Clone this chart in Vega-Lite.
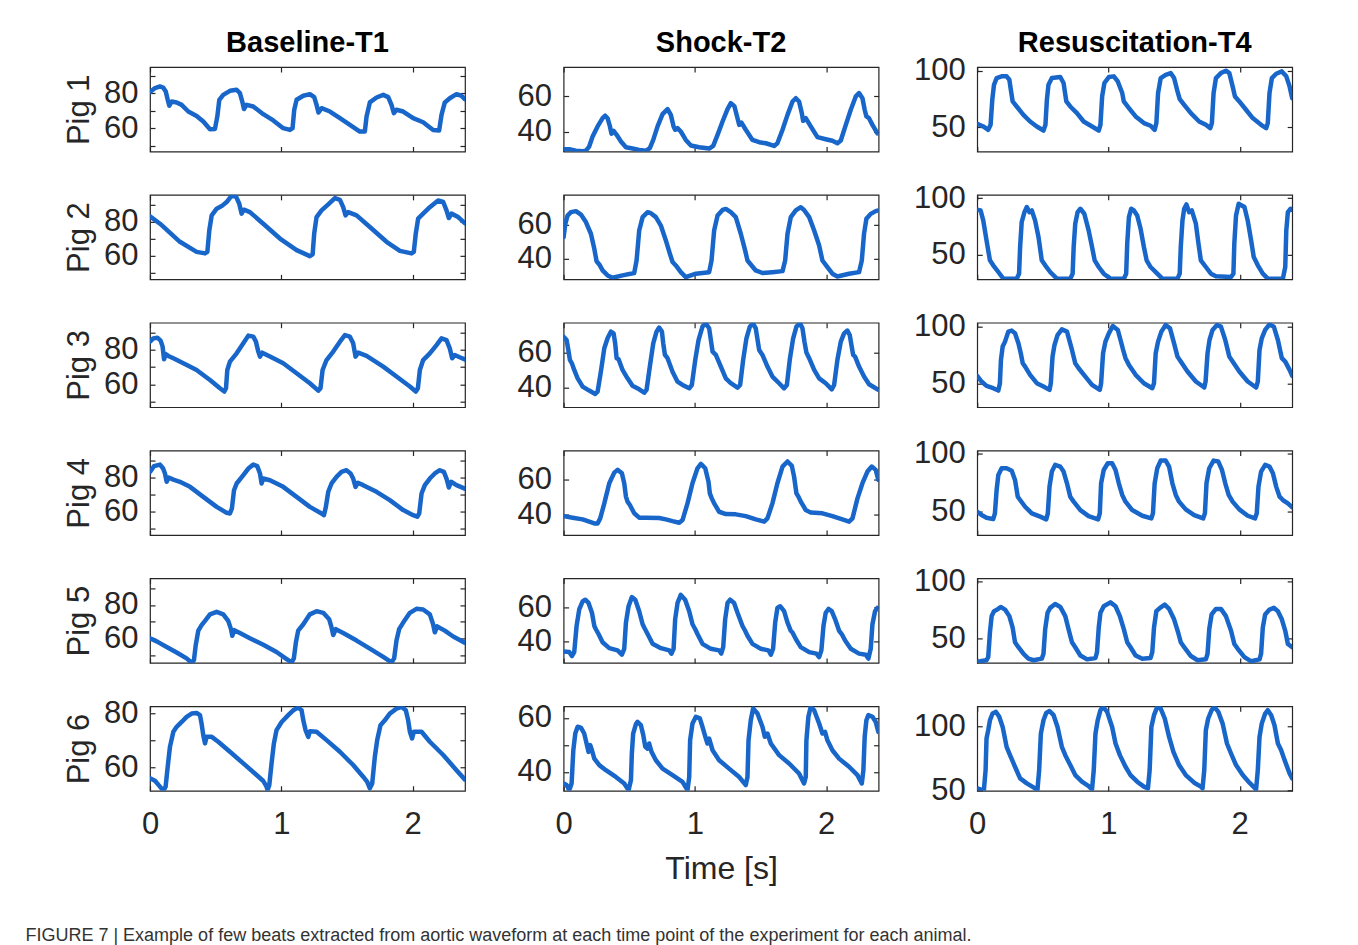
{
"$schema": "https://vega.github.io/schema/vega-lite/v6.json",
"padding": {"left": 25, "top": 28, "right": 10, "bottom": 10},
"background": "white",
"title": {"text": "FIGURE 7 | Example of few beats extracted from aortic waveform at each time point of the experiment for each animal.", "orient": "bottom", "anchor": "start", "frame": "bounds", "fontSize": 18, "fontWeight": "normal", "color": "#333333", "offset": 42, "dx": -37},
"datasets": {
"c1r1": [{"t":0,"p":80.7},{"t":0.038,"p":83.0},{"t":0.076,"p":83.9},{"t":0.10,"p":83.3},{"t":0.12,"p":81.0},{"t":0.135,"p":76.3},{"t":0.147,"p":72.9},{"t":0.165,"p":75.3},{"t":0.203,"p":74.8},{"t":0.241,"p":73.4},{"t":0.292,"p":69.6},{"t":0.355,"p":67.1},{"t":0.406,"p":63.9},{"t":0.457,"p":59.5},{"t":0.495,"p":59.7},{"t":0.513,"p":66.8},{"t":0.528,"p":76.3},{"t":0.558,"p":79.1},{"t":0.609,"p":81.4},{"t":0.66,"p":82.0},{"t":0.685,"p":80.1},{"t":0.703,"p":75.3},{"t":0.716,"p":71.0},{"t":0.736,"p":73.4},{"t":0.787,"p":72.5},{"t":0.863,"p":68.1},{"t":0.939,"p":64.5},{"t":1.015,"p":60.1},{"t":1.066,"p":59.1},{"t":1.086,"p":60.1},{"t":1.099,"p":70.6},{"t":1.117,"p":76.3},{"t":1.168,"p":78.6},{"t":1.218,"p":79.5},{"t":1.251,"p":77.8},{"t":1.269,"p":73.4},{"t":1.284,"p":69.0},{"t":1.307,"p":71.5},{"t":1.371,"p":69.6},{"t":1.447,"p":65.8},{"t":1.523,"p":62.0},{"t":1.599,"p":58.2},{"t":1.637,"p":58.2},{"t":1.65,"p":66.8},{"t":1.675,"p":74.8},{"t":1.726,"p":77.6},{"t":1.777,"p":79.1},{"t":1.815,"p":77.8},{"t":1.84,"p":73.4},{"t":1.858,"p":68.7},{"t":1.878,"p":70.6},{"t":1.929,"p":69.6},{"t":2.005,"p":65.8},{"t":2.081,"p":63.5},{"t":2.157,"p":59.1},{"t":2.203,"p":58.8},{"t":2.221,"p":67.7},{"t":2.246,"p":74.8},{"t":2.284,"p":77.2},{"t":2.335,"p":79.5},{"t":2.373,"p":78.6},{"t":2.398,"p":76.7}],
"c1r2": [{"t":0,"p":83.0},{"t":0.076,"p":78.7},{"t":0.228,"p":68.1},{"t":0.355,"p":62.2},{"t":0.419,"p":61.3},{"t":0.437,"p":62.2},{"t":0.452,"p":74.9},{"t":0.47,"p":83.6},{"t":0.508,"p":87.5},{"t":0.546,"p":89.0},{"t":0.584,"p":91.4},{"t":0.622,"p":95.2},{"t":0.655,"p":94.7},{"t":0.68,"p":90.4},{"t":0.698,"p":84.6},{"t":0.716,"p":86.9},{"t":0.761,"p":85.5},{"t":0.863,"p":78.7},{"t":0.99,"p":70.0},{"t":1.117,"p":63.2},{"t":1.218,"p":59.7},{"t":1.239,"p":60.7},{"t":1.251,"p":72.9},{"t":1.269,"p":82.6},{"t":1.307,"p":86.5},{"t":1.358,"p":90.0},{"t":1.409,"p":93.7},{"t":1.447,"p":92.7},{"t":1.472,"p":88.4},{"t":1.49,"p":83.6},{"t":1.51,"p":85.5},{"t":1.574,"p":83.6},{"t":1.675,"p":76.8},{"t":1.802,"p":68.1},{"t":1.904,"p":62.8},{"t":1.992,"p":61.3},{"t":2.01,"p":62.2},{"t":2.025,"p":72.9},{"t":2.043,"p":81.7},{"t":2.081,"p":84.6},{"t":2.132,"p":88.4},{"t":2.195,"p":92.3},{"t":2.234,"p":91.4},{"t":2.259,"p":86.5},{"t":2.277,"p":82.0},{"t":2.297,"p":84.6},{"t":2.348,"p":82.6},{"t":2.398,"p":79.1}],
"c1r3": [{"t":0,"p":84.8},{"t":0.025,"p":86.7},{"t":0.056,"p":87.1},{"t":0.081,"p":85.4},{"t":0.096,"p":81.9},{"t":0.107,"p":74.5},{"t":0.119,"p":77.6},{"t":0.14,"p":76.5},{"t":0.178,"p":75.1},{"t":0.254,"p":72.2},{"t":0.355,"p":68.3},{"t":0.457,"p":62.5},{"t":0.533,"p":57.7},{"t":0.566,"p":55.8},{"t":0.579,"p":57.7},{"t":0.589,"p":68.3},{"t":0.609,"p":73.2},{"t":0.66,"p":78.0},{"t":0.711,"p":83.8},{"t":0.749,"p":88.3},{"t":0.787,"p":87.7},{"t":0.807,"p":84.8},{"t":0.825,"p":79.0},{"t":0.838,"p":76.1},{"t":0.855,"p":78.4},{"t":0.914,"p":76.1},{"t":1.015,"p":72.2},{"t":1.117,"p":66.4},{"t":1.218,"p":60.6},{"t":1.282,"p":56.3},{"t":1.299,"p":57.7},{"t":1.315,"p":68.3},{"t":1.345,"p":74.1},{"t":1.396,"p":79.0},{"t":1.447,"p":84.8},{"t":1.485,"p":88.6},{"t":1.523,"p":87.7},{"t":1.548,"p":83.8},{"t":1.566,"p":76.1},{"t":1.586,"p":78.4},{"t":1.65,"p":76.5},{"t":1.777,"p":70.3},{"t":1.878,"p":64.5},{"t":1.98,"p":58.7},{"t":2.025,"p":55.8},{"t":2.041,"p":57.7},{"t":2.056,"p":68.3},{"t":2.081,"p":74.1},{"t":2.132,"p":78.0},{"t":2.183,"p":82.8},{"t":2.221,"p":86.7},{"t":2.259,"p":85.7},{"t":2.284,"p":80.9},{"t":2.302,"p":75.1},{"t":2.322,"p":77.0},{"t":2.36,"p":75.7},{"t":2.398,"p":74.5}],
"c1r4": [{"t":0,"p":83.3},{"t":0.03,"p":86.7},{"t":0.076,"p":87.6},{"t":0.10,"p":85.3},{"t":0.114,"p":82.4},{"t":0.127,"p":77.5},{"t":0.142,"p":80.0},{"t":0.178,"p":78.8},{"t":0.228,"p":77.5},{"t":0.305,"p":74.5},{"t":0.406,"p":68.6},{"t":0.508,"p":62.7},{"t":0.584,"p":59.2},{"t":0.609,"p":58.8},{"t":0.624,"p":61.8},{"t":0.64,"p":72.5},{"t":0.66,"p":76.5},{"t":0.711,"p":81.4},{"t":0.749,"p":85.3},{"t":0.787,"p":87.6},{"t":0.817,"p":86.7},{"t":0.838,"p":82.4},{"t":0.85,"p":76.5},{"t":0.863,"p":79.4},{"t":0.914,"p":78.4},{"t":1.015,"p":74.5},{"t":1.117,"p":68.6},{"t":1.218,"p":62.7},{"t":1.307,"p":58.8},{"t":1.325,"p":57.8},{"t":1.34,"p":62.7},{"t":1.358,"p":71.6},{"t":1.383,"p":76.5},{"t":1.421,"p":80.4},{"t":1.459,"p":83.3},{"t":1.497,"p":84.3},{"t":1.528,"p":82.4},{"t":1.548,"p":79.4},{"t":1.566,"p":74.5},{"t":1.584,"p":76.9},{"t":1.624,"p":75.5},{"t":1.726,"p":71.6},{"t":1.827,"p":66.7},{"t":1.929,"p":60.8},{"t":2.005,"p":57.8},{"t":2.036,"p":56.9},{"t":2.051,"p":58.8},{"t":2.069,"p":70.6},{"t":2.094,"p":75.5},{"t":2.132,"p":79.4},{"t":2.17,"p":82.4},{"t":2.208,"p":84.3},{"t":2.239,"p":83.3},{"t":2.259,"p":79.4},{"t":2.277,"p":74.1},{"t":2.294,"p":77.5},{"t":2.335,"p":75.5},{"t":2.398,"p":73.5}],
"c1r5": [{"t":0,"p":60.2},{"t":0.051,"p":58.3},{"t":0.127,"p":55.0},{"t":0.203,"p":51.7},{"t":0.279,"p":48.2},{"t":0.317,"p":45.6},{"t":0.335,"p":47.2},{"t":0.348,"p":55.9},{"t":0.368,"p":64.7},{"t":0.393,"p":68.0},{"t":0.419,"p":70.5},{"t":0.457,"p":74.4},{"t":0.508,"p":75.9},{"t":0.558,"p":74.4},{"t":0.596,"p":70.5},{"t":0.617,"p":65.6},{"t":0.627,"p":61.7},{"t":0.642,"p":65.0},{"t":0.685,"p":63.3},{"t":0.761,"p":60.2},{"t":0.863,"p":56.3},{"t":0.964,"p":52.0},{"t":1.041,"p":47.8},{"t":1.079,"p":45.8},{"t":1.096,"p":48.2},{"t":1.112,"p":57.9},{"t":1.129,"p":64.7},{"t":1.168,"p":68.5},{"t":1.218,"p":74.4},{"t":1.269,"p":76.3},{"t":1.32,"p":75.3},{"t":1.365,"p":71.5},{"t":1.383,"p":66.6},{"t":1.396,"p":62.1},{"t":1.416,"p":65.6},{"t":1.472,"p":63.3},{"t":1.574,"p":58.8},{"t":1.675,"p":54.0},{"t":1.777,"p":49.1},{"t":1.84,"p":45.8},{"t":1.86,"p":48.2},{"t":1.878,"p":58.8},{"t":1.898,"p":65.6},{"t":1.929,"p":69.5},{"t":1.98,"p":75.3},{"t":2.03,"p":77.7},{"t":2.081,"p":77.3},{"t":2.132,"p":74.4},{"t":2.157,"p":68.5},{"t":2.17,"p":63.7},{"t":2.188,"p":67.2},{"t":2.246,"p":64.7},{"t":2.31,"p":61.2},{"t":2.398,"p":57.5}],
"c1r6": [{"t":0,"p":56.1},{"t":0.038,"p":55.2},{"t":0.071,"p":53.3},{"t":0.102,"p":51.5},{"t":0.119,"p":53.0},{"t":0.132,"p":59.1},{"t":0.152,"p":67.7},{"t":0.178,"p":73.3},{"t":0.203,"p":75.1},{"t":0.241,"p":76.9},{"t":0.279,"p":78.8},{"t":0.317,"p":80.0},{"t":0.355,"p":80.2},{"t":0.381,"p":79.4},{"t":0.393,"p":76.3},{"t":0.406,"p":72.0},{"t":0.419,"p":69.0},{"t":0.431,"p":71.4},{"t":0.47,"p":71.4},{"t":0.52,"p":69.6},{"t":0.609,"p":65.9},{"t":0.711,"p":61.6},{"t":0.812,"p":57.3},{"t":0.863,"p":55.1},{"t":0.888,"p":53.0},{"t":0.896,"p":51.8},{"t":0.909,"p":53.6},{"t":0.926,"p":61.6},{"t":0.944,"p":69.0},{"t":0.964,"p":73.9},{"t":1.003,"p":76.9},{"t":1.053,"p":79.4},{"t":1.091,"p":81.2},{"t":1.129,"p":82.2},{"t":1.155,"p":81.2},{"t":1.168,"p":77.5},{"t":1.185,"p":73.9},{"t":1.206,"p":71.4},{"t":1.218,"p":73.5},{"t":1.269,"p":73.3},{"t":1.345,"p":70.2},{"t":1.447,"p":65.9},{"t":1.548,"p":61.0},{"t":1.624,"p":56.7},{"t":1.655,"p":54.8},{"t":1.675,"p":52.4},{"t":1.693,"p":54.2},{"t":1.713,"p":64.0},{"t":1.731,"p":70.2},{"t":1.756,"p":75.7},{"t":1.789,"p":77.5},{"t":1.827,"p":80.0},{"t":1.878,"p":81.8},{"t":1.916,"p":82.5},{"t":1.949,"p":81.2},{"t":1.967,"p":77.5},{"t":1.98,"p":73.3},{"t":1.997,"p":70.8},{"t":2.01,"p":73.3},{"t":2.069,"p":73.3},{"t":2.132,"p":69.6},{"t":2.234,"p":64.7},{"t":2.335,"p":59.1},{"t":2.398,"p":55.7}],
"c2r1": [{"t":0,"p":29.9},{"t":0.043,"p":29.9},{"t":0.094,"p":29.1},{"t":0.145,"p":28.8},{"t":0.17,"p":29.1},{"t":0.195,"p":31.4},{"t":0.221,"p":37.1},{"t":0.259,"p":42.9},{"t":0.297,"p":47.6},{"t":0.317,"p":49.0},{"t":0.335,"p":47.6},{"t":0.353,"p":42.9},{"t":0.365,"p":38.7},{"t":0.381,"p":40.4},{"t":0.404,"p":38.1},{"t":0.437,"p":34.3},{"t":0.475,"p":31.0},{"t":0.525,"p":30.3},{"t":0.576,"p":29.5},{"t":0.627,"p":29.0},{"t":0.657,"p":30.5},{"t":0.683,"p":35.2},{"t":0.716,"p":42.9},{"t":0.754,"p":49.9},{"t":0.792,"p":52.8},{"t":0.817,"p":49.5},{"t":0.838,"p":42.9},{"t":0.85,"p":41.0},{"t":0.868,"p":41.9},{"t":0.893,"p":40.0},{"t":0.931,"p":35.2},{"t":0.97,"p":32.0},{"t":1.033,"p":31.0},{"t":1.109,"p":30.3},{"t":1.14,"p":31.8},{"t":1.173,"p":38.1},{"t":1.211,"p":45.7},{"t":1.249,"p":52.8},{"t":1.274,"p":56.2},{"t":1.302,"p":54.3},{"t":1.325,"p":47.6},{"t":1.338,"p":43.8},{"t":1.355,"p":45.1},{"t":1.388,"p":41.0},{"t":1.439,"p":35.2},{"t":1.49,"p":33.9},{"t":1.541,"p":33.3},{"t":1.604,"p":31.8},{"t":1.629,"p":33.3},{"t":1.668,"p":41.0},{"t":1.706,"p":49.5},{"t":1.744,"p":57.1},{"t":1.769,"p":59.0},{"t":1.794,"p":57.1},{"t":1.815,"p":50.5},{"t":1.825,"p":46.1},{"t":1.845,"p":47.6},{"t":1.883,"p":42.9},{"t":1.934,"p":36.8},{"t":1.997,"p":35.6},{"t":2.048,"p":34.7},{"t":2.086,"p":33.3},{"t":2.112,"p":34.9},{"t":2.15,"p":43.8},{"t":2.188,"p":52.4},{"t":2.226,"p":60.0},{"t":2.251,"p":61.9},{"t":2.277,"p":59.0},{"t":2.294,"p":52.4},{"t":2.307,"p":48.6},{"t":2.327,"p":47.6},{"t":2.353,"p":43.8},{"t":2.391,"p":39.0}],
"c2r2": [{"t":0,"p":52.6},{"t":0.013,"p":60.4},{"t":0.03,"p":65.2},{"t":0.056,"p":67.2},{"t":0.094,"p":67.8},{"t":0.132,"p":65.8},{"t":0.17,"p":61.4},{"t":0.208,"p":54.6},{"t":0.234,"p":45.8},{"t":0.251,"p":38.6},{"t":0.272,"p":36.7},{"t":0.297,"p":33.2},{"t":0.335,"p":30.3},{"t":0.373,"p":28.9},{"t":0.449,"p":30.3},{"t":0.538,"p":31.7},{"t":0.556,"p":39.0},{"t":0.576,"p":56.5},{"t":0.602,"p":64.3},{"t":0.64,"p":67.2},{"t":0.665,"p":66.6},{"t":0.703,"p":64.3},{"t":0.741,"p":59.4},{"t":0.779,"p":50.7},{"t":0.81,"p":42.9},{"t":0.83,"p":38.1},{"t":0.855,"p":36.1},{"t":0.893,"p":32.2},{"t":0.931,"p":29.3},{"t":1.008,"p":31.3},{"t":1.109,"p":32.2},{"t":1.127,"p":39.0},{"t":1.147,"p":56.5},{"t":1.173,"p":65.2},{"t":1.211,"p":68.5},{"t":1.236,"p":69.1},{"t":1.274,"p":67.2},{"t":1.312,"p":64.3},{"t":1.35,"p":54.6},{"t":1.383,"p":44.9},{"t":1.401,"p":39.0},{"t":1.426,"p":36.7},{"t":1.464,"p":33.2},{"t":1.515,"p":31.7},{"t":1.591,"p":32.2},{"t":1.668,"p":32.8},{"t":1.688,"p":39.0},{"t":1.706,"p":54.6},{"t":1.731,"p":64.3},{"t":1.769,"p":68.2},{"t":1.807,"p":70.1},{"t":1.832,"p":68.5},{"t":1.871,"p":64.3},{"t":1.909,"p":56.5},{"t":1.947,"p":47.8},{"t":1.972,"p":39.0},{"t":2.01,"p":35.1},{"t":2.048,"p":31.3},{"t":2.086,"p":29.7},{"t":2.175,"p":31.3},{"t":2.251,"p":32.2},{"t":2.272,"p":39.0},{"t":2.289,"p":54.6},{"t":2.307,"p":63.3},{"t":2.34,"p":66.2},{"t":2.378,"p":67.8},{"t":2.398,"p":68.2}],
"c2r3": [{"t":0,"p":69.1},{"t":0.023,"p":67.2},{"t":0.036,"p":61.5},{"t":0.048,"p":55.8},{"t":0.063,"p":53.9},{"t":0.081,"p":50.1},{"t":0.107,"p":45.3},{"t":0.145,"p":40.6},{"t":0.195,"p":38.3},{"t":0.241,"p":36.4},{"t":0.259,"p":37.7},{"t":0.284,"p":49.1},{"t":0.31,"p":62.5},{"t":0.335,"p":68.2},{"t":0.36,"p":72.0},{"t":0.381,"p":71.0},{"t":0.393,"p":65.3},{"t":0.404,"p":56.8},{"t":0.419,"p":56.2},{"t":0.449,"p":50.1},{"t":0.487,"p":45.3},{"t":0.525,"p":41.0},{"t":0.576,"p":39.0},{"t":0.614,"p":37.1},{"t":0.632,"p":38.7},{"t":0.657,"p":52.0},{"t":0.683,"p":65.3},{"t":0.708,"p":72.0},{"t":0.728,"p":74.3},{"t":0.749,"p":72.0},{"t":0.759,"p":65.3},{"t":0.772,"p":58.7},{"t":0.792,"p":56.8},{"t":0.83,"p":49.1},{"t":0.868,"p":43.4},{"t":0.906,"p":41.5},{"t":0.957,"p":39.6},{"t":0.977,"p":41.5},{"t":1.003,"p":55.8},{"t":1.028,"p":67.2},{"t":1.058,"p":74.9},{"t":1.084,"p":76.6},{"t":1.109,"p":73.9},{"t":1.122,"p":67.2},{"t":1.135,"p":60.6},{"t":1.16,"p":58.7},{"t":1.198,"p":52.0},{"t":1.236,"p":45.3},{"t":1.274,"p":42.5},{"t":1.325,"p":40.0},{"t":1.345,"p":41.5},{"t":1.368,"p":55.8},{"t":1.393,"p":68.2},{"t":1.419,"p":74.9},{"t":1.444,"p":76.6},{"t":1.464,"p":73.9},{"t":1.48,"p":66.3},{"t":1.49,"p":61.5},{"t":1.515,"p":58.7},{"t":1.553,"p":52.0},{"t":1.591,"p":46.3},{"t":1.642,"p":42.5},{"t":1.68,"p":39.6},{"t":1.701,"p":41.5},{"t":1.723,"p":55.8},{"t":1.749,"p":68.2},{"t":1.774,"p":74.9},{"t":1.802,"p":76.6},{"t":1.82,"p":73.9},{"t":1.835,"p":66.3},{"t":1.85,"p":60.0},{"t":1.871,"p":56.8},{"t":1.909,"p":50.1},{"t":1.947,"p":45.3},{"t":1.997,"p":42.5},{"t":2.043,"p":39.0},{"t":2.061,"p":41.5},{"t":2.086,"p":55.8},{"t":2.112,"p":66.3},{"t":2.137,"p":71.0},{"t":2.162,"p":72.6},{"t":2.18,"p":70.1},{"t":2.195,"p":63.4},{"t":2.206,"p":58.7},{"t":2.221,"p":57.7},{"t":2.251,"p":52.0},{"t":2.289,"p":46.3},{"t":2.327,"p":41.9},{"t":2.365,"p":40.2},{"t":2.398,"p":38.7}],
"c2r4": [{"t":0,"p":39.2},{"t":0.069,"p":38.3},{"t":0.145,"p":37.3},{"t":0.195,"p":36.0},{"t":0.234,"p":35.0},{"t":0.259,"p":35.0},{"t":0.279,"p":37.9},{"t":0.31,"p":46.5},{"t":0.348,"p":58.1},{"t":0.386,"p":64.2},{"t":0.411,"p":65.8},{"t":0.444,"p":63.8},{"t":0.462,"p":58.1},{"t":0.475,"p":50.4},{"t":0.487,"p":47.5},{"t":0.505,"p":45.6},{"t":0.538,"p":40.8},{"t":0.576,"p":38.3},{"t":0.627,"p":38.3},{"t":0.728,"p":38.1},{"t":0.779,"p":37.3},{"t":0.83,"p":36.3},{"t":0.881,"p":35.4},{"t":0.906,"p":36.9},{"t":0.944,"p":46.5},{"t":0.982,"p":58.1},{"t":1.02,"p":66.7},{"t":1.046,"p":69.2},{"t":1.079,"p":66.7},{"t":1.104,"p":59.0},{"t":1.114,"p":52.3},{"t":1.129,"p":49.4},{"t":1.147,"p":46.5},{"t":1.185,"p":41.7},{"t":1.236,"p":40.4},{"t":1.312,"p":40.2},{"t":1.388,"p":39.2},{"t":1.464,"p":37.3},{"t":1.528,"p":36.0},{"t":1.553,"p":37.9},{"t":1.591,"p":46.5},{"t":1.629,"p":58.1},{"t":1.668,"p":67.7},{"t":1.706,"p":70.6},{"t":1.739,"p":68.1},{"t":1.756,"p":61.9},{"t":1.774,"p":52.3},{"t":1.789,"p":50.4},{"t":1.807,"p":47.5},{"t":1.845,"p":42.7},{"t":1.883,"p":41.2},{"t":1.972,"p":40.8},{"t":2.048,"p":39.2},{"t":2.124,"p":37.3},{"t":2.175,"p":36.0},{"t":2.201,"p":37.9},{"t":2.239,"p":49.4},{"t":2.277,"p":58.1},{"t":2.315,"p":64.8},{"t":2.348,"p":67.7},{"t":2.378,"p":65.8},{"t":2.398,"p":60.0}],
"c2r5": [{"t":0,"p":34.3},{"t":0.043,"p":33.9},{"t":0.063,"p":31.6},{"t":0.081,"p":33.9},{"t":0.099,"p":49.1},{"t":0.119,"p":58.7},{"t":0.145,"p":63.4},{"t":0.165,"p":64.4},{"t":0.19,"p":62.5},{"t":0.216,"p":56.8},{"t":0.234,"p":49.1},{"t":0.246,"p":47.2},{"t":0.266,"p":44.4},{"t":0.297,"p":39.6},{"t":0.348,"p":36.2},{"t":0.411,"p":34.9},{"t":0.444,"p":32.4},{"t":0.462,"p":35.8},{"t":0.475,"p":51.0},{"t":0.495,"p":60.6},{"t":0.52,"p":65.9},{"t":0.546,"p":64.4},{"t":0.576,"p":57.7},{"t":0.602,"p":50.1},{"t":0.614,"p":48.2},{"t":0.64,"p":44.4},{"t":0.678,"p":38.7},{"t":0.741,"p":36.2},{"t":0.805,"p":34.9},{"t":0.822,"p":33.0},{"t":0.838,"p":35.8},{"t":0.85,"p":53.0},{"t":0.868,"p":62.5},{"t":0.893,"p":67.2},{"t":0.926,"p":64.4},{"t":0.957,"p":57.7},{"t":0.982,"p":50.1},{"t":1.003,"p":47.2},{"t":1.02,"p":44.4},{"t":1.058,"p":38.7},{"t":1.122,"p":35.8},{"t":1.185,"p":34.9},{"t":1.201,"p":33.0},{"t":1.216,"p":36.8},{"t":1.231,"p":53.0},{"t":1.249,"p":62.5},{"t":1.269,"p":64.4},{"t":1.299,"p":62.5},{"t":1.325,"p":56.8},{"t":1.363,"p":49.1},{"t":1.383,"p":46.3},{"t":1.401,"p":43.4},{"t":1.439,"p":38.7},{"t":1.503,"p":35.8},{"t":1.561,"p":34.9},{"t":1.579,"p":32.4},{"t":1.596,"p":35.8},{"t":1.612,"p":51.0},{"t":1.629,"p":59.6},{"t":1.65,"p":60.6},{"t":1.68,"p":57.7},{"t":1.706,"p":51.0},{"t":1.731,"p":46.3},{"t":1.744,"p":45.3},{"t":1.769,"p":41.5},{"t":1.807,"p":36.8},{"t":1.871,"p":33.9},{"t":1.926,"p":33.0},{"t":1.947,"p":31.0},{"t":1.964,"p":34.9},{"t":1.98,"p":49.1},{"t":1.997,"p":56.8},{"t":2.018,"p":59.0},{"t":2.043,"p":57.7},{"t":2.069,"p":53.0},{"t":2.099,"p":46.3},{"t":2.119,"p":44.4},{"t":2.145,"p":40.6},{"t":2.188,"p":35.8},{"t":2.251,"p":33.0},{"t":2.302,"p":32.4},{"t":2.322,"p":30.1},{"t":2.34,"p":35.8},{"t":2.353,"p":50.1},{"t":2.373,"p":57.7},{"t":2.391,"p":59.6}],
"c2r6": [{"t":0,"p":35.7},{"t":0.023,"p":35.1},{"t":0.043,"p":33.2},{"t":0.061,"p":35.7},{"t":0.074,"p":48.0},{"t":0.089,"p":54.2},{"t":0.107,"p":56.7},{"t":0.132,"p":56.4},{"t":0.157,"p":54.2},{"t":0.175,"p":50.5},{"t":0.19,"p":47.4},{"t":0.203,"p":49.9},{"t":0.216,"p":48.0},{"t":0.234,"p":44.9},{"t":0.272,"p":42.5},{"t":0.322,"p":40.6},{"t":0.398,"p":38.1},{"t":0.462,"p":35.7},{"t":0.495,"p":33.2},{"t":0.513,"p":36.9},{"t":0.52,"p":46.8},{"t":0.53,"p":54.2},{"t":0.551,"p":57.7},{"t":0.563,"p":58.5},{"t":0.589,"p":57.3},{"t":0.607,"p":53.6},{"t":0.622,"p":49.3},{"t":0.64,"p":48.6},{"t":0.652,"p":50.5},{"t":0.67,"p":47.4},{"t":0.703,"p":44.3},{"t":0.754,"p":41.2},{"t":0.83,"p":38.8},{"t":0.906,"p":36.3},{"t":0.944,"p":33.2},{"t":0.957,"p":38.1},{"t":0.964,"p":51.7},{"t":0.982,"p":57.9},{"t":1.008,"p":60.4},{"t":1.038,"p":59.8},{"t":1.058,"p":56.7},{"t":1.084,"p":52.3},{"t":1.096,"p":50.5},{"t":1.109,"p":52.3},{"t":1.135,"p":48.0},{"t":1.185,"p":44.3},{"t":1.261,"p":41.2},{"t":1.338,"p":38.1},{"t":1.388,"p":35.1},{"t":1.401,"p":38.1},{"t":1.409,"p":51.7},{"t":1.426,"p":59.1},{"t":1.444,"p":63.5},{"t":1.477,"p":61.6},{"t":1.515,"p":56.7},{"t":1.533,"p":53.0},{"t":1.553,"p":54.2},{"t":1.579,"p":50.5},{"t":1.642,"p":46.2},{"t":1.718,"p":43.1},{"t":1.794,"p":39.4},{"t":1.832,"p":35.7},{"t":1.845,"p":38.1},{"t":1.85,"p":51.7},{"t":1.865,"p":60.4},{"t":1.883,"p":64.1},{"t":1.909,"p":62.8},{"t":1.947,"p":57.9},{"t":1.972,"p":54.2},{"t":1.992,"p":54.8},{"t":2.01,"p":51.7},{"t":2.048,"p":48.0},{"t":2.099,"p":44.9},{"t":2.175,"p":41.9},{"t":2.239,"p":38.8},{"t":2.272,"p":35.7},{"t":2.284,"p":40.6},{"t":2.294,"p":53.0},{"t":2.307,"p":59.1},{"t":2.322,"p":61.0},{"t":2.353,"p":60.4},{"t":2.378,"p":58.5},{"t":2.398,"p":54.8}],
"c3r1": [{"t":0,"p":53.0},{"t":0.046,"p":50.6},{"t":0.084,"p":47.6},{"t":0.102,"p":52.1},{"t":0.115,"p":74.3},{"t":0.128,"p":87.6},{"t":0.148,"p":93.5},{"t":0.186,"p":95.0},{"t":0.224,"p":95.0},{"t":0.245,"p":92.0},{"t":0.258,"p":81.7},{"t":0.27,"p":72.8},{"t":0.301,"p":68.3},{"t":0.352,"p":60.9},{"t":0.403,"p":55.0},{"t":0.454,"p":50.6},{"t":0.505,"p":47.0},{"t":0.52,"p":52.1},{"t":0.531,"p":74.3},{"t":0.543,"p":87.6},{"t":0.569,"p":93.5},{"t":0.633,"p":94.4},{"t":0.658,"p":89.1},{"t":0.679,"p":72.8},{"t":0.709,"p":68.3},{"t":0.76,"p":62.4},{"t":0.811,"p":55.0},{"t":0.875,"p":50.6},{"t":0.926,"p":47.0},{"t":0.939,"p":52.1},{"t":0.952,"p":77.2},{"t":0.969,"p":89.1},{"t":1.003,"p":94.4},{"t":1.041,"p":95.0},{"t":1.071,"p":90.5},{"t":1.105,"p":80.2},{"t":1.117,"p":72.8},{"t":1.156,"p":66.9},{"t":1.207,"p":59.5},{"t":1.27,"p":53.6},{"t":1.321,"p":51.2},{"t":1.352,"p":47.6},{"t":1.365,"p":53.6},{"t":1.378,"p":80.2},{"t":1.398,"p":93.5},{"t":1.436,"p":96.4},{"t":1.474,"p":97.9},{"t":1.5,"p":93.5},{"t":1.526,"p":81.7},{"t":1.543,"p":74.9},{"t":1.577,"p":69.8},{"t":1.628,"p":62.4},{"t":1.691,"p":55.0},{"t":1.742,"p":52.1},{"t":1.776,"p":49.1},{"t":1.788,"p":53.6},{"t":1.801,"p":80.2},{"t":1.819,"p":93.5},{"t":1.857,"p":97.9},{"t":1.895,"p":100.0},{"t":1.921,"p":97.9},{"t":1.946,"p":86.1},{"t":1.964,"p":77.2},{"t":1.997,"p":72.8},{"t":2.048,"p":65.4},{"t":2.099,"p":58.0},{"t":2.163,"p":52.1},{"t":2.202,"p":49.1},{"t":2.214,"p":53.6},{"t":2.227,"p":80.2},{"t":2.245,"p":93.5},{"t":2.278,"p":97.3},{"t":2.321,"p":99.4},{"t":2.355,"p":95.0},{"t":2.38,"p":86.1},{"t":2.4,"p":75.7}],
"c3r2": [{"t":0,"p":89.7},{"t":0.026,"p":89.1},{"t":0.046,"p":80.3},{"t":0.071,"p":62.6},{"t":0.097,"p":45.0},{"t":0.122,"p":40.6},{"t":0.161,"p":34.7},{"t":0.199,"p":28.8},{"t":0.301,"p":28.8},{"t":0.319,"p":33.2},{"t":0.327,"p":56.8},{"t":0.339,"p":78.8},{"t":0.36,"p":87.6},{"t":0.378,"p":92.1},{"t":0.398,"p":87.6},{"t":0.416,"p":89.1},{"t":0.441,"p":80.3},{"t":0.467,"p":65.6},{"t":0.492,"p":45.0},{"t":0.518,"p":40.6},{"t":0.556,"p":34.7},{"t":0.607,"p":28.8},{"t":0.709,"p":28.8},{"t":0.727,"p":33.2},{"t":0.735,"p":56.8},{"t":0.747,"p":77.4},{"t":0.765,"p":87.6},{"t":0.786,"p":90.6},{"t":0.816,"p":86.2},{"t":0.849,"p":71.5},{"t":0.875,"p":56.8},{"t":0.895,"p":45.0},{"t":0.926,"p":39.1},{"t":0.964,"p":33.2},{"t":1.015,"p":28.8},{"t":1.117,"p":28.8},{"t":1.135,"p":33.2},{"t":1.143,"p":59.7},{"t":1.156,"p":83.2},{"t":1.173,"p":90.6},{"t":1.194,"p":89.1},{"t":1.219,"p":84.7},{"t":1.245,"p":72.9},{"t":1.27,"p":56.8},{"t":1.291,"p":45.0},{"t":1.321,"p":39.1},{"t":1.372,"p":33.2},{"t":1.411,"p":28.8},{"t":1.526,"p":28.8},{"t":1.543,"p":33.2},{"t":1.551,"p":56.8},{"t":1.564,"p":80.3},{"t":1.577,"p":90.6},{"t":1.594,"p":94.4},{"t":1.615,"p":87.6},{"t":1.635,"p":89.1},{"t":1.666,"p":77.4},{"t":1.686,"p":59.7},{"t":1.704,"p":45.0},{"t":1.742,"p":39.1},{"t":1.781,"p":33.2},{"t":1.819,"p":30.9},{"t":1.934,"p":30.3},{"t":1.952,"p":33.2},{"t":1.959,"p":59.7},{"t":1.972,"p":84.7},{"t":1.992,"p":95.0},{"t":2.015,"p":93.5},{"t":2.036,"p":92.1},{"t":2.061,"p":80.3},{"t":2.087,"p":62.6},{"t":2.107,"p":47.9},{"t":2.138,"p":40.6},{"t":2.176,"p":33.2},{"t":2.214,"p":28.8},{"t":2.329,"p":28.8},{"t":2.347,"p":39.1},{"t":2.355,"p":71.5},{"t":2.367,"p":87.6},{"t":2.388,"p":90.6},{"t":2.4,"p":89.7}],
"c3r3": [{"t":0,"p":56.5},{"t":0.033,"p":51.5},{"t":0.071,"p":47.6},{"t":0.122,"p":45.6},{"t":0.161,"p":43.5},{"t":0.173,"p":50.0},{"t":0.181,"p":70.6},{"t":0.194,"p":82.4},{"t":0.212,"p":86.8},{"t":0.237,"p":95.6},{"t":0.263,"p":96.5},{"t":0.288,"p":94.1},{"t":0.314,"p":85.3},{"t":0.332,"p":76.5},{"t":0.347,"p":67.6},{"t":0.365,"p":64.7},{"t":0.403,"p":57.4},{"t":0.454,"p":50.0},{"t":0.505,"p":47.1},{"t":0.551,"p":44.1},{"t":0.561,"p":50.0},{"t":0.574,"p":73.5},{"t":0.589,"p":83.8},{"t":0.612,"p":92.6},{"t":0.645,"p":97.6},{"t":0.684,"p":95.6},{"t":0.722,"p":79.4},{"t":0.747,"p":67.6},{"t":0.773,"p":63.2},{"t":0.824,"p":55.9},{"t":0.875,"p":48.5},{"t":0.934,"p":44.1},{"t":0.944,"p":50.0},{"t":0.959,"p":76.5},{"t":0.977,"p":86.8},{"t":1.003,"p":94.1},{"t":1.033,"p":100.6},{"t":1.071,"p":97.1},{"t":1.092,"p":88.2},{"t":1.112,"p":79.4},{"t":1.13,"p":72.1},{"t":1.156,"p":66.2},{"t":1.207,"p":57.4},{"t":1.27,"p":50.0},{"t":1.334,"p":45.6},{"t":1.347,"p":50.0},{"t":1.36,"p":76.5},{"t":1.378,"p":86.8},{"t":1.403,"p":95.6},{"t":1.436,"p":101.5},{"t":1.469,"p":98.5},{"t":1.5,"p":85.3},{"t":1.526,"p":73.5},{"t":1.551,"p":69.1},{"t":1.602,"p":60.3},{"t":1.666,"p":51.5},{"t":1.73,"p":46.2},{"t":1.74,"p":51.5},{"t":1.755,"p":76.5},{"t":1.77,"p":88.2},{"t":1.793,"p":97.1},{"t":1.827,"p":101.5},{"t":1.857,"p":100.0},{"t":1.89,"p":88.2},{"t":1.921,"p":73.5},{"t":1.946,"p":69.1},{"t":1.997,"p":60.3},{"t":2.061,"p":51.5},{"t":2.125,"p":46.2},{"t":2.138,"p":51.5},{"t":2.151,"p":79.4},{"t":2.168,"p":89.7},{"t":2.194,"p":97.1},{"t":2.227,"p":102.0},{"t":2.26,"p":100.0},{"t":2.291,"p":88.2},{"t":2.321,"p":72.1},{"t":2.347,"p":69.1},{"t":2.38,"p":61.8},{"t":2.4,"p":56.5}],
"c3r4": [{"t":0,"p":50.0},{"t":0.033,"p":47.1},{"t":0.071,"p":44.8},{"t":0.122,"p":43.6},{"t":0.135,"p":48.6},{"t":0.148,"p":68.8},{"t":0.161,"p":81.8},{"t":0.186,"p":87.6},{"t":0.224,"p":87.6},{"t":0.263,"p":85.5},{"t":0.288,"p":77.5},{"t":0.309,"p":63.0},{"t":0.327,"p":60.1},{"t":0.365,"p":54.3},{"t":0.416,"p":48.6},{"t":0.48,"p":45.7},{"t":0.526,"p":43.4},{"t":0.538,"p":48.6},{"t":0.551,"p":71.7},{"t":0.569,"p":84.7},{"t":0.594,"p":90.5},{"t":0.633,"p":89.0},{"t":0.658,"p":84.7},{"t":0.684,"p":74.6},{"t":0.709,"p":63.0},{"t":0.735,"p":58.7},{"t":0.786,"p":51.4},{"t":0.849,"p":46.2},{"t":0.921,"p":43.4},{"t":0.934,"p":48.6},{"t":0.944,"p":74.6},{"t":0.964,"p":86.1},{"t":0.995,"p":91.9},{"t":1.028,"p":91.9},{"t":1.054,"p":86.1},{"t":1.079,"p":74.6},{"t":1.105,"p":64.5},{"t":1.13,"p":58.7},{"t":1.181,"p":51.4},{"t":1.258,"p":46.5},{"t":1.327,"p":44.2},{"t":1.339,"p":48.6},{"t":1.352,"p":74.6},{"t":1.372,"p":87.6},{"t":1.398,"p":94.2},{"t":1.436,"p":94.2},{"t":1.462,"p":89.0},{"t":1.487,"p":74.6},{"t":1.513,"p":64.5},{"t":1.538,"p":58.7},{"t":1.589,"p":52.0},{"t":1.653,"p":47.1},{"t":1.722,"p":44.2},{"t":1.735,"p":48.6},{"t":1.747,"p":74.6},{"t":1.768,"p":87.6},{"t":1.801,"p":94.2},{"t":1.837,"p":93.4},{"t":1.865,"p":86.1},{"t":1.89,"p":74.6},{"t":1.916,"p":64.5},{"t":1.946,"p":58.7},{"t":1.997,"p":52.0},{"t":2.061,"p":46.5},{"t":2.117,"p":44.2},{"t":2.13,"p":48.6},{"t":2.143,"p":71.7},{"t":2.163,"p":84.7},{"t":2.194,"p":90.5},{"t":2.227,"p":89.0},{"t":2.253,"p":83.2},{"t":2.278,"p":71.7},{"t":2.304,"p":63.0},{"t":2.329,"p":60.1},{"t":2.367,"p":57.2},{"t":2.4,"p":53.8}],
"c3r5": [{"t":0,"p":29.4},{"t":0.033,"p":30.3},{"t":0.071,"p":30.9},{"t":0.084,"p":33.7},{"t":0.097,"p":55.1},{"t":0.11,"p":69.4},{"t":0.128,"p":73.7},{"t":0.153,"p":75.1},{"t":0.179,"p":77.4},{"t":0.212,"p":75.1},{"t":0.245,"p":69.4},{"t":0.27,"p":59.4},{"t":0.288,"p":46.6},{"t":0.314,"p":42.3},{"t":0.352,"p":36.6},{"t":0.39,"p":32.3},{"t":0.429,"p":30.9},{"t":0.492,"p":32.3},{"t":0.505,"p":36.6},{"t":0.518,"p":58.0},{"t":0.536,"p":72.3},{"t":0.556,"p":76.6},{"t":0.594,"p":80.0},{"t":0.633,"p":77.4},{"t":0.671,"p":69.4},{"t":0.696,"p":58.0},{"t":0.722,"p":46.6},{"t":0.747,"p":42.3},{"t":0.786,"p":35.1},{"t":0.837,"p":31.7},{"t":0.901,"p":32.9},{"t":0.913,"p":38.0},{"t":0.926,"p":59.4},{"t":0.939,"p":72.3},{"t":0.964,"p":78.0},{"t":1.015,"p":81.4},{"t":1.054,"p":78.0},{"t":1.087,"p":69.4},{"t":1.117,"p":58.0},{"t":1.143,"p":46.6},{"t":1.168,"p":42.3},{"t":1.207,"p":35.1},{"t":1.258,"p":32.3},{"t":1.321,"p":32.9},{"t":1.334,"p":38.0},{"t":1.347,"p":59.4},{"t":1.365,"p":73.7},{"t":1.393,"p":76.6},{"t":1.429,"p":79.4},{"t":1.462,"p":75.7},{"t":1.5,"p":66.6},{"t":1.531,"p":55.1},{"t":1.551,"p":46.6},{"t":1.577,"p":42.3},{"t":1.628,"p":34.6},{"t":1.679,"p":30.9},{"t":1.742,"p":31.7},{"t":1.755,"p":36.6},{"t":1.768,"p":58.0},{"t":1.786,"p":70.9},{"t":1.819,"p":75.7},{"t":1.857,"p":75.7},{"t":1.895,"p":69.4},{"t":1.934,"p":56.6},{"t":1.959,"p":45.1},{"t":1.985,"p":40.9},{"t":2.036,"p":33.7},{"t":2.087,"p":30.0},{"t":2.151,"p":31.7},{"t":2.163,"p":36.6},{"t":2.176,"p":59.4},{"t":2.194,"p":70.9},{"t":2.227,"p":75.1},{"t":2.26,"p":76.6},{"t":2.291,"p":73.7},{"t":2.321,"p":66.6},{"t":2.347,"p":56.6},{"t":2.367,"p":45.1},{"t":2.4,"p":42.3}],
"c3r6": [{"t":0,"p":51.6},{"t":0.026,"p":50.8},{"t":0.051,"p":50.3},{"t":0.064,"p":65.9},{"t":0.071,"p":90.6},{"t":0.084,"p":97.1},{"t":0.097,"p":104.9},{"t":0.117,"p":110.2},{"t":0.143,"p":111.5},{"t":0.168,"p":107.6},{"t":0.194,"p":99.7},{"t":0.224,"p":84.1},{"t":0.25,"p":77.6},{"t":0.288,"p":68.5},{"t":0.327,"p":59.4},{"t":0.378,"p":55.5},{"t":0.429,"p":52.3},{"t":0.459,"p":50.3},{"t":0.472,"p":65.9},{"t":0.485,"p":94.5},{"t":0.505,"p":104.9},{"t":0.526,"p":110.7},{"t":0.551,"p":112.2},{"t":0.582,"p":108.9},{"t":0.612,"p":99.7},{"t":0.645,"p":84.1},{"t":0.671,"p":77.6},{"t":0.709,"p":69.8},{"t":0.747,"p":62.0},{"t":0.798,"p":56.8},{"t":0.849,"p":53.4},{"t":0.875,"p":50.8},{"t":0.888,"p":65.9},{"t":0.901,"p":94.5},{"t":0.918,"p":104.9},{"t":0.939,"p":112.8},{"t":0.959,"p":115.4},{"t":0.99,"p":111.5},{"t":1.028,"p":99.7},{"t":1.054,"p":86.7},{"t":1.087,"p":77.6},{"t":1.13,"p":68.5},{"t":1.168,"p":62.0},{"t":1.219,"p":56.8},{"t":1.27,"p":52.9},{"t":1.301,"p":51.6},{"t":1.314,"p":65.9},{"t":1.327,"p":99.7},{"t":1.347,"p":108.9},{"t":1.372,"p":115.4},{"t":1.398,"p":114.1},{"t":1.429,"p":106.3},{"t":1.462,"p":91.9},{"t":1.495,"p":80.2},{"t":1.538,"p":69.8},{"t":1.589,"p":62.0},{"t":1.653,"p":56.0},{"t":1.704,"p":52.9},{"t":1.717,"p":51.6},{"t":1.73,"p":65.9},{"t":1.742,"p":97.1},{"t":1.76,"p":106.3},{"t":1.786,"p":112.8},{"t":1.806,"p":115.4},{"t":1.837,"p":111.5},{"t":1.87,"p":102.3},{"t":1.903,"p":86.7},{"t":1.934,"p":78.9},{"t":1.972,"p":69.8},{"t":2.023,"p":62.0},{"t":2.074,"p":56.0},{"t":2.125,"p":50.8},{"t":2.138,"p":65.9},{"t":2.151,"p":91.9},{"t":2.168,"p":102.3},{"t":2.194,"p":110.2},{"t":2.214,"p":112.8},{"t":2.24,"p":108.9},{"t":2.265,"p":101.0},{"t":2.291,"p":86.7},{"t":2.316,"p":81.5},{"t":2.342,"p":73.7},{"t":2.38,"p":63.3},{"t":2.4,"p":59.4}]
},
"bounds": "flush",
"columns": 3,
"spacing": {"row": 42.85, "column": 98.6},
"concat": [
{"width":315,"height":84.5,"title":{"text":"Baseline-T1"},"data":{"name":"c1r1"},"layer":[
{"mark":{"type":"line","clip":true},"encoding":{"x":{"field":"t","type":"quantitative","scale":{"domain":[0,2.4]},"axis":{"values":[0,1,2],"labels":false,"title":null,"minExtent":0,"maxExtent":0}},"y":{"field":"p","type":"quantitative","scale":{"domain":[46.8,95]},"axis":{"values":[50,60,70,80,90],"labelExpr":"datum.value % 20 ? '' : datum.label","title":"Pig 1"}}}},
{"mark":{"type":"line","opacity":0},"encoding":{"x":{"field":"t","type":"quantitative","scale":{"domain":[0,2.4]},"axis":{"orient":"top","values":[0,1,2],"title":null}},"y":{"field":"p","type":"quantitative","scale":{"domain":[46.8,95]},"axis":{"orient":"right","values":[50,60,70,80,90],"title":null}}}}
],"resolve":{"axis":{"x":"independent","y":"independent"}}},
{"width":315,"height":84.5,"title":{"text":"Shock-T2"},"data":{"name":"c2r1"},"layer":[
{"mark":{"type":"line","clip":true},"encoding":{"x":{"field":"t","type":"quantitative","scale":{"domain":[0,2.4]},"axis":{"values":[0,1,2],"labels":false,"title":null,"minExtent":0,"maxExtent":0}},"y":{"field":"p","type":"quantitative","scale":{"domain":[28.6,76.8]},"axis":{"values":[40,60],"title":null}}}},
{"mark":{"type":"line","opacity":0},"encoding":{"x":{"field":"t","type":"quantitative","scale":{"domain":[0,2.4]},"axis":{"orient":"top","values":[0,1,2],"title":null}},"y":{"field":"p","type":"quantitative","scale":{"domain":[28.6,76.8]},"axis":{"orient":"right","values":[40,60],"title":null}}}}
],"resolve":{"axis":{"x":"independent","y":"independent"}}},
{"width":315,"height":84.5,"title":{"text":"Resuscitation-T4","offset":-3},"data":{"name":"c3r1"},"layer":[
{"mark":{"type":"line","clip":true},"encoding":{"x":{"field":"t","type":"quantitative","scale":{"domain":[0,2.4]},"axis":{"values":[0,1,2],"labels":false,"title":null,"minExtent":0,"maxExtent":0}},"y":{"field":"p","type":"quantitative","scale":{"domain":[28.4,103.3]},"axis":{"values":[50,100],"title":null}}}},
{"mark":{"type":"line","opacity":0},"encoding":{"x":{"field":"t","type":"quantitative","scale":{"domain":[0,2.4]},"axis":{"orient":"top","values":[0,1,2],"title":null}},"y":{"field":"p","type":"quantitative","scale":{"domain":[28.4,103.3]},"axis":{"orient":"right","values":[50,100],"title":null}}}}
],"resolve":{"axis":{"x":"independent","y":"independent"}}},
{"width":315,"height":84.5,"data":{"name":"c1r2"},"layer":[
{"mark":{"type":"line","clip":true},"encoding":{"x":{"field":"t","type":"quantitative","scale":{"domain":[0,2.4]},"axis":{"values":[0,1,2],"labels":false,"title":null,"minExtent":0,"maxExtent":0}},"y":{"field":"p","type":"quantitative","scale":{"domain":[46.1,95.6]},"axis":{"values":[50,60,70,80,90],"labelExpr":"datum.value % 20 ? '' : datum.label","title":"Pig 2"}}}},
{"mark":{"type":"line","opacity":0},"encoding":{"x":{"field":"t","type":"quantitative","scale":{"domain":[0,2.4]},"axis":{"orient":"top","values":[0,1,2],"title":null}},"y":{"field":"p","type":"quantitative","scale":{"domain":[46.1,95.6]},"axis":{"orient":"right","values":[50,60,70,80,90],"title":null}}}}
],"resolve":{"axis":{"x":"independent","y":"independent"}}},
{"width":315,"height":84.5,"data":{"name":"c2r2"},"layer":[
{"mark":{"type":"line","clip":true},"encoding":{"x":{"field":"t","type":"quantitative","scale":{"domain":[0,2.4]},"axis":{"values":[0,1,2],"labels":false,"title":null,"minExtent":0,"maxExtent":0}},"y":{"field":"p","type":"quantitative","scale":{"domain":[28,77.3]},"axis":{"values":[40,60],"title":null}}}},
{"mark":{"type":"line","opacity":0},"encoding":{"x":{"field":"t","type":"quantitative","scale":{"domain":[0,2.4]},"axis":{"orient":"top","values":[0,1,2],"title":null}},"y":{"field":"p","type":"quantitative","scale":{"domain":[28,77.3]},"axis":{"orient":"right","values":[40,60],"title":null}}}}
],"resolve":{"axis":{"x":"independent","y":"independent"}}},
{"width":315,"height":84.5,"data":{"name":"c3r2"},"layer":[
{"mark":{"type":"line","clip":true},"encoding":{"x":{"field":"t","type":"quantitative","scale":{"domain":[0,2.4]},"axis":{"values":[0,1,2],"labels":false,"title":null,"minExtent":0,"maxExtent":0}},"y":{"field":"p","type":"quantitative","scale":{"domain":[28.2,102.9]},"axis":{"values":[50,100],"title":null}}}},
{"mark":{"type":"line","opacity":0},"encoding":{"x":{"field":"t","type":"quantitative","scale":{"domain":[0,2.4]},"axis":{"orient":"top","values":[0,1,2],"title":null}},"y":{"field":"p","type":"quantitative","scale":{"domain":[28.2,102.9]},"axis":{"orient":"right","values":[50,100],"title":null}}}}
],"resolve":{"axis":{"x":"independent","y":"independent"}}},
{"width":315,"height":84.5,"data":{"name":"c1r3"},"layer":[
{"mark":{"type":"line","clip":true},"encoding":{"x":{"field":"t","type":"quantitative","scale":{"domain":[0,2.4]},"axis":{"values":[0,1,2],"labels":false,"title":null,"minExtent":0,"maxExtent":0}},"y":{"field":"p","type":"quantitative","scale":{"domain":[46.7,95.8]},"axis":{"values":[50,60,70,80,90],"labelExpr":"datum.value % 20 ? '' : datum.label","title":"Pig 3"}}}},
{"mark":{"type":"line","opacity":0},"encoding":{"x":{"field":"t","type":"quantitative","scale":{"domain":[0,2.4]},"axis":{"orient":"top","values":[0,1,2],"title":null}},"y":{"field":"p","type":"quantitative","scale":{"domain":[46.7,95.8]},"axis":{"orient":"right","values":[50,60,70,80,90],"title":null}}}}
],"resolve":{"axis":{"x":"independent","y":"independent"}}},
{"width":315,"height":84.5,"data":{"name":"c2r3"},"layer":[
{"mark":{"type":"line","clip":true},"encoding":{"x":{"field":"t","type":"quantitative","scale":{"domain":[0,2.4]},"axis":{"values":[0,1,2],"labels":false,"title":null,"minExtent":0,"maxExtent":0}},"y":{"field":"p","type":"quantitative","scale":{"domain":[28.8,77.1]},"axis":{"values":[40,60],"title":null}}}},
{"mark":{"type":"line","opacity":0},"encoding":{"x":{"field":"t","type":"quantitative","scale":{"domain":[0,2.4]},"axis":{"orient":"top","values":[0,1,2],"title":null}},"y":{"field":"p","type":"quantitative","scale":{"domain":[28.8,77.1]},"axis":{"orient":"right","values":[40,60],"title":null}}}}
],"resolve":{"axis":{"x":"independent","y":"independent"}}},
{"width":315,"height":84.5,"data":{"name":"c3r3"},"layer":[
{"mark":{"type":"line","clip":true},"encoding":{"x":{"field":"t","type":"quantitative","scale":{"domain":[0,2.4]},"axis":{"values":[0,1,2],"labels":false,"title":null,"minExtent":0,"maxExtent":0}},"y":{"field":"p","type":"quantitative","scale":{"domain":[28.8,103.5]},"axis":{"values":[50,100],"title":null}}}},
{"mark":{"type":"line","opacity":0},"encoding":{"x":{"field":"t","type":"quantitative","scale":{"domain":[0,2.4]},"axis":{"orient":"top","values":[0,1,2],"title":null}},"y":{"field":"p","type":"quantitative","scale":{"domain":[28.8,103.5]},"axis":{"orient":"right","values":[50,100],"title":null}}}}
],"resolve":{"axis":{"x":"independent","y":"independent"}}},
{"width":315,"height":84.5,"data":{"name":"c1r4"},"layer":[
{"mark":{"type":"line","clip":true},"encoding":{"x":{"field":"t","type":"quantitative","scale":{"domain":[0,2.4]},"axis":{"values":[0,1,2],"labels":false,"title":null,"minExtent":0,"maxExtent":0}},"y":{"field":"p","type":"quantitative","scale":{"domain":[46.1,95.9]},"axis":{"values":[50,60,70,80,90],"labelExpr":"datum.value % 20 ? '' : datum.label","title":"Pig 4"}}}},
{"mark":{"type":"line","opacity":0},"encoding":{"x":{"field":"t","type":"quantitative","scale":{"domain":[0,2.4]},"axis":{"orient":"top","values":[0,1,2],"title":null}},"y":{"field":"p","type":"quantitative","scale":{"domain":[46.1,95.9]},"axis":{"orient":"right","values":[50,60,70,80,90],"title":null}}}}
],"resolve":{"axis":{"x":"independent","y":"independent"}}},
{"width":315,"height":84.5,"data":{"name":"c2r4"},"layer":[
{"mark":{"type":"line","clip":true},"encoding":{"x":{"field":"t","type":"quantitative","scale":{"domain":[0,2.4]},"axis":{"values":[0,1,2],"labels":false,"title":null,"minExtent":0,"maxExtent":0}},"y":{"field":"p","type":"quantitative","scale":{"domain":[28.3,76.9]},"axis":{"values":[40,60],"title":null}}}},
{"mark":{"type":"line","opacity":0},"encoding":{"x":{"field":"t","type":"quantitative","scale":{"domain":[0,2.4]},"axis":{"orient":"top","values":[0,1,2],"title":null}},"y":{"field":"p","type":"quantitative","scale":{"domain":[28.3,76.9]},"axis":{"orient":"right","values":[40,60],"title":null}}}}
],"resolve":{"axis":{"x":"independent","y":"independent"}}},
{"width":315,"height":84.5,"data":{"name":"c3r4"},"layer":[
{"mark":{"type":"line","clip":true},"encoding":{"x":{"field":"t","type":"quantitative","scale":{"domain":[0,2.4]},"axis":{"values":[0,1,2],"labels":false,"title":null,"minExtent":0,"maxExtent":0}},"y":{"field":"p","type":"quantitative","scale":{"domain":[29.8,102.9]},"axis":{"values":[50,100],"title":null}}}},
{"mark":{"type":"line","opacity":0},"encoding":{"x":{"field":"t","type":"quantitative","scale":{"domain":[0,2.4]},"axis":{"orient":"top","values":[0,1,2],"title":null}},"y":{"field":"p","type":"quantitative","scale":{"domain":[29.8,102.9]},"axis":{"orient":"right","values":[50,100],"title":null}}}}
],"resolve":{"axis":{"x":"independent","y":"independent"}}},
{"width":315,"height":84.5,"data":{"name":"c1r5"},"layer":[
{"mark":{"type":"line","clip":true},"encoding":{"x":{"field":"t","type":"quantitative","scale":{"domain":[0,2.4]},"axis":{"values":[0,1,2],"labels":false,"title":null,"minExtent":0,"maxExtent":0}},"y":{"field":"p","type":"quantitative","scale":{"domain":[45.5,95.8]},"axis":{"values":[50,60,70,80,90],"labelExpr":"datum.value % 20 ? '' : datum.label","title":"Pig 5"}}}},
{"mark":{"type":"line","opacity":0},"encoding":{"x":{"field":"t","type":"quantitative","scale":{"domain":[0,2.4]},"axis":{"orient":"top","values":[0,1,2],"title":null}},"y":{"field":"p","type":"quantitative","scale":{"domain":[45.5,95.8]},"axis":{"orient":"right","values":[50,60,70,80,90],"title":null}}}}
],"resolve":{"axis":{"x":"independent","y":"independent"}}},
{"width":315,"height":84.5,"data":{"name":"c2r5"},"layer":[
{"mark":{"type":"line","clip":true},"encoding":{"x":{"field":"t","type":"quantitative","scale":{"domain":[0,2.4]},"axis":{"values":[0,1,2],"labels":false,"title":null,"minExtent":0,"maxExtent":0}},"y":{"field":"p","type":"quantitative","scale":{"domain":[27.6,76.8]},"axis":{"values":[40,60],"title":null}}}},
{"mark":{"type":"line","opacity":0},"encoding":{"x":{"field":"t","type":"quantitative","scale":{"domain":[0,2.4]},"axis":{"orient":"top","values":[0,1,2],"title":null}},"y":{"field":"p","type":"quantitative","scale":{"domain":[27.6,76.8]},"axis":{"orient":"right","values":[40,60],"title":null}}}}
],"resolve":{"axis":{"x":"independent","y":"independent"}}},
{"width":315,"height":84.5,"data":{"name":"c3r5"},"layer":[
{"mark":{"type":"line","clip":true},"encoding":{"x":{"field":"t","type":"quantitative","scale":{"domain":[0,2.4]},"axis":{"values":[0,1,2],"labels":false,"title":null,"minExtent":0,"maxExtent":0}},"y":{"field":"p","type":"quantitative","scale":{"domain":[28.6,102.3]},"axis":{"values":[50,100],"title":null}}}},
{"mark":{"type":"line","opacity":0},"encoding":{"x":{"field":"t","type":"quantitative","scale":{"domain":[0,2.4]},"axis":{"orient":"top","values":[0,1,2],"title":null}},"y":{"field":"p","type":"quantitative","scale":{"domain":[28.6,102.3]},"axis":{"orient":"right","values":[50,100],"title":null}}}}
],"resolve":{"axis":{"x":"independent","y":"independent"}}},
{"width":315,"height":84.5,"data":{"name":"c1r6"},"layer":[
{"mark":{"type":"line","clip":true},"encoding":{"x":{"field":"t","type":"quantitative","scale":{"domain":[0,2.4]},"axis":{"values":[0,1,2],"format":"d","title":null}},"y":{"field":"p","type":"quantitative","scale":{"domain":[51.5,82.7]},"axis":{"values":[60,70,80],"labelExpr":"datum.value % 20 ? '' : datum.label","title":"Pig 6"}}}},
{"mark":{"type":"line","opacity":0},"encoding":{"x":{"field":"t","type":"quantitative","scale":{"domain":[0,2.4]},"axis":{"orient":"top","values":[0,1,2],"title":null}},"y":{"field":"p","type":"quantitative","scale":{"domain":[51.5,82.7]},"axis":{"orient":"right","values":[60,70,80],"title":null}}}}
],"resolve":{"axis":{"x":"independent","y":"independent"}}},
{"width":315,"height":84.5,"data":{"name":"c2r6"},"layer":[
{"mark":{"type":"line","clip":true},"encoding":{"x":{"field":"t","type":"quantitative","scale":{"domain":[0,2.4]},"axis":{"values":[0,1,2],"format":"d","title":"Time [s]","titleFontSize":32}},"y":{"field":"p","type":"quantitative","scale":{"domain":[33,64.3]},"axis":{"values":[40,50,60],"labelExpr":"datum.value % 20 ? '' : datum.label","title":null}}}},
{"mark":{"type":"line","opacity":0},"encoding":{"x":{"field":"t","type":"quantitative","scale":{"domain":[0,2.4]},"axis":{"orient":"top","values":[0,1,2],"title":null}},"y":{"field":"p","type":"quantitative","scale":{"domain":[33,64.3]},"axis":{"orient":"right","values":[40,50,60],"title":null}}}}
],"resolve":{"axis":{"x":"independent","y":"independent"}}},
{"width":315,"height":84.5,"data":{"name":"c3r6"},"layer":[
{"mark":{"type":"line","clip":true},"encoding":{"x":{"field":"t","type":"quantitative","scale":{"domain":[0,2.4]},"axis":{"values":[0,1,2],"format":"d","title":null}},"y":{"field":"p","type":"quantitative","scale":{"domain":[49.7,115.9]},"axis":{"values":[50,100],"title":null}}}},
{"mark":{"type":"line","opacity":0},"encoding":{"x":{"field":"t","type":"quantitative","scale":{"domain":[0,2.4]},"axis":{"orient":"top","values":[0,1,2],"title":null}},"y":{"field":"p","type":"quantitative","scale":{"domain":[49.7,115.9]},"axis":{"orient":"right","values":[50,100],"title":null}}}}
],"resolve":{"axis":{"x":"independent","y":"independent"}}}
],
"config": {
"view": {"stroke": "#262626", "strokeWidth": 1.2},
"line": {"color": "#1866c9", "strokeWidth": 4.5, "strokeJoin": "round", "strokeCap": "round"},
"axis": {"grid": false, "domain": false, "labelFlush": false, "tickColor": "#262626", "tickSize": -5, "tickWidth": 1.2, "labelFont": "Liberation Sans", "labelFontSize": 31, "labelColor": "#262626", "titleFont": "Liberation Sans", "titleFontSize": 31, "titleFontWeight": "normal", "titleColor": "#262626"},
"axisLeft": {"labelPadding": 17, "minExtent": 47, "maxExtent": 47, "titlePadding": 8},
"axisBottom": {"labelPadding": 24, "titlePadding": 14},
"axisTop": {"labels": false, "minExtent": 0, "maxExtent": 0},
"axisRight": {"labels": false, "minExtent": 0, "maxExtent": 0},
"title": {"font": "Liberation Sans", "fontSize": 29, "fontWeight": "bold", "color": "#000000", "offset": 8, "frame": "group", "anchor": "middle"}
}
}
